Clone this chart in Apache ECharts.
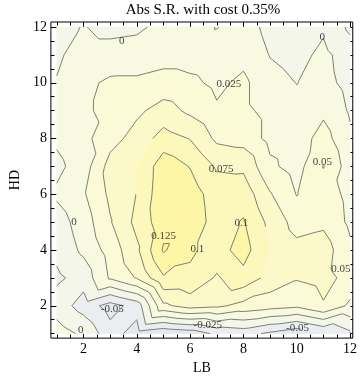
<!DOCTYPE html>
<html>
<head>
<meta charset="utf-8">
<script src="https://cdn.jsdelivr.net/npm/echarts@6/dist/echarts.min.js"></script>
<style>
  html, body { margin: 0; padding: 0; background: #fff; }
  #chart { width: 360px; height: 380px; }
</style>
</head>
<body>
<div id="chart"></div>
<script>
// grid axes
const lbValues = [1, 2, 3, 4, 5, 6, 7, 8, 9, 10, 11, 12]
const hdValues = [1, 2, 3, 4, 5, 6, 7, 8, 9, 10, 11, 12]

// Abs S.R. per HD row, one value per LB
const srHD1  = [0.012, -0.005, -0.040, -0.060, -0.072, -0.065, -0.045, -0.040, -0.055, -0.068, -0.050, -0.030]
const srHD2  = [-0.012, -0.035, -0.060, -0.040, 0.045, 0.060, 0.055, 0.042, 0.035, 0.030, 0.048, 0.020]
const srHD3  = [-0.030, -0.015, 0.028, 0.052, 0.097, 0.095, 0.072, 0.092, 0.066, 0.052, 0.058, 0.042]
const srHD4  = [-0.018, 0.005, 0.035, 0.070, 0.128, 0.104, 0.090, 0.110, 0.075, 0.058, 0.062, 0.030]
const srHD5  = [-0.012, 0.012, 0.048, 0.082, 0.115, 0.115, 0.090, 0.102, 0.068, 0.040, 0.045, 0.020]
const srHD6  = [0.004, 0.022, 0.055, 0.076, 0.118, 0.112, 0.088, 0.090, 0.052, 0.024, 0.038, 0.018]
const srHD7  = [-0.006, 0.012, 0.060, 0.075, 0.115, 0.099, 0.072, 0.070, 0.030, 0.015, 0.051, 0.012]
const srHD8  = [0.004, 0.018, 0.040, 0.060, 0.085, 0.074, 0.045, 0.040, 0.018, 0.012, 0.035, 0.0045]
const srHD9  = [0.004, 0.022, 0.030, 0.045, 0.060, 0.045, 0.028, 0.030, 0.018, 0.006, 0.020, -0.003]
const srHD10 = [0.001, 0.018, 0.030, 0.030, 0.035, 0.030, 0.020, 0.030, 0.008, -0.0005, 0.008, -0.008]
const srHD11 = [-0.003, 0.008, 0.008, 0.010, 0.015, 0.015, 0.012, 0.018, -0.001, -0.008, 0.006, -0.012]
const srHD12 = [-0.007, 0.001, -0.006, -0.004, 0.006, 0.012, 0.026, 0.012, -0.008, -0.012, -0.004, -0.030]
const srRows = [srHD1, srHD2, srHD3, srHD4, srHD5, srHD6, srHD7, srHD8, srHD9, srHD10, srHD11, srHD12]

// contour levels and labels
const levels = [-0.05, -0.025, 0, 0.025, 0.05, 0.075, 0.1, 0.125]
const labelLB = [3.44, 10.96, 7.45, 7.16, 10.96, 1.65, 7.92, 5.01, 6.27, 11.65, 3.08, 1.9, 6.66, 10.03]
const labelHD = [11.5, 11.64, 9.96, 6.89, 7.14, 5.0, 4.96, 4.5, 4.04, 3.32, 1.89, 1.11, 1.29, 1.21]
const labelText = ['0', '0', '0.025', '0.075', '0.05', '0', '0.1', '0.125', '0.1', '0.05', '-0.05', '0', '-0.025', '-0.05']

// tick positions
const majorTicks = [2, 4, 6, 8, 10, 12]
const minorTicks = [1, 1.5, 2.5, 3, 3.5, 4.5, 5, 5.5, 6.5, 7, 7.5, 8.5, 9, 9.5, 10.5, 11, 11.5]

const bandColors = ['#e4e8f2', '#ebeef0', '#f3f6e8', '#f8f9e1', '#fafad6', '#fbf9ca', '#fcf8bb', '#fdf6a6', '#fef396']
const FONT = 'Liberation Serif'

// split each cell into two triangles (linear interpolation inside each)
const triangles = []
for (let j = 0; j < hdValues.length - 1; j++) {
  for (let i = 0; i < lbValues.length - 1; i++) {
    const p00 = [lbValues[i], hdValues[j], srRows[j][i]]
    const p10 = [lbValues[i + 1], hdValues[j], srRows[j][i + 1]]
    const p01 = [lbValues[i], hdValues[j + 1], srRows[j + 1][i]]
    const p11 = [lbValues[i + 1], hdValues[j + 1], srRows[j + 1][i + 1]]
    triangles.push([p00, p10, p11])
    triangles.push([p00, p11, p01])
  }
}
const triData = triangles.map(t => [(t[0][0] + t[1][0] + t[2][0]) / 3, (t[0][1] + t[1][1] + t[2][1]) / 3])

const clip = (poly, lv, above) => {
  const out = []
  for (let k = 0; k < poly.length; k++) {
    const a = poly[k], b = poly[(k + 1) % poly.length]
    const ain = above ? a[2] >= lv : a[2] <= lv
    const bin = above ? b[2] >= lv : b[2] <= lv
    if (ain) out.push(a)
    if (ain !== bin) {
      const t = (lv - a[2]) / (b[2] - a[2])
      out.push([a[0] + t * (b[0] - a[0]), a[1] + t * (b[1] - a[1]), lv])
    }
  }
  return out
}

const renderBands = (params, api) => {
  const tri = triangles[params.dataIndex]
  const children = []
  for (let k = 0; k <= levels.length; k++) {
    let poly = tri
    if (k > 0) poly = clip(poly, levels[k - 1], true)
    if (poly.length >= 3 && k < levels.length) poly = clip(poly, levels[k], false)
    if (poly.length < 3) continue
    children.push({
      type: 'polygon',
      shape: { points: poly.map(p => api.coord([p[0], p[1]])) },
      style: { fill: bandColors[k], stroke: bandColors[k], lineWidth: 0.6 }
    })
  }
  return { type: 'group', children }
}

const renderLines = (params, api) => {
  const tri = triangles[params.dataIndex]
  const children = []
  levels.forEach(lv => {
    const pts = []
    for (let k = 0; k < 3; k++) {
      const a = tri[k], b = tri[(k + 1) % 3]
      if ((a[2] - lv) * (b[2] - lv) < 0) {
        const t = (lv - a[2]) / (b[2] - a[2])
        pts.push(api.coord([a[0] + t * (b[0] - a[0]), a[1] + t * (b[1] - a[1])]))
      }
    }
    if (pts.length === 2) {
      children.push({
        type: 'polyline',
        shape: { points: pts },
        style: { stroke: '#808070', lineWidth: 1, fill: null }
      })
    }
  })
  return { type: 'group', children }
}

const labelData = labelText.map((t, i) => [labelLB[i], labelHD[i], t])

const xBase = { type: 'value', min: 0.78, max: 12.1, splitLine: { show: false }, axisLine: { show: false } }
const yBase = { type: 'value', min: 0.84, max: 12.18, splitLine: { show: false }, axisLine: { show: false } }
const majorTick = { show: true, inside: true, length: 6, customValues: majorTicks, lineStyle: { color: '#000', width: 1 } }
const minorTick = { show: true, inside: true, length: 3.5, customValues: minorTicks, lineStyle: { color: '#000', width: 1 } }
const tickLabel = { show: true, customValues: majorTicks, color: '#000', fontFamily: FONT, fontSize: 14, margin: 4 }

const chart = echarts.init(document.getElementById('chart'))
chart.setOption({
  animation: false,
  title: {
    text: 'Abs S.R. with cost 0.35%',
    left: 198,
    textAlign: 'center',
    top: -2,
    textStyle: { fontFamily: FONT, fontSize: 15, fontWeight: 'normal', color: '#000' }
  },
  grid: { left: 39, top: 22, width: 316, height: 317, show: true, borderColor: '#000', borderWidth: 1, backgroundColor: '#fff' },
  xAxis: [
    Object.assign({}, xBase, { position: 'bottom', axisTick: majorTick, axisLabel: tickLabel,
      name: 'LB', nameLocation: 'middle', nameGap: 22, nameTextStyle: { fontFamily: FONT, fontSize: 14, color: '#000' } }),
    Object.assign({}, xBase, { position: 'bottom', axisTick: minorTick, axisLabel: { show: false } }),
    Object.assign({}, xBase, { position: 'top', axisTick: majorTick, axisLabel: { show: false } }),
    Object.assign({}, xBase, { position: 'top', axisTick: minorTick, axisLabel: { show: false } })
  ],
  yAxis: [
    Object.assign({}, yBase, { position: 'left', axisTick: majorTick, axisLabel: tickLabel,
      name: 'HD', nameLocation: 'middle', nameGap: 26, nameTextStyle: { fontFamily: FONT, fontSize: 14, color: '#000' } }),
    Object.assign({}, yBase, { position: 'left', axisTick: minorTick, axisLabel: { show: false } }),
    Object.assign({}, yBase, { position: 'right', axisTick: majorTick, axisLabel: { show: false } }),
    Object.assign({}, yBase, { position: 'right', axisTick: minorTick, axisLabel: { show: false } })
  ],
  series: [
    {
      type: 'custom',
      renderItem: renderBands,
      data: triData,
      encode: { x: 0, y: 1 },
      silent: true,
      emphasis: { disabled: true },
      z: 1
    },
    {
      type: 'custom',
      renderItem: renderLines,
      data: triData,
      encode: { x: 0, y: 1 },
      silent: true,
      emphasis: { disabled: true },
      z: 2
    },
    {
      type: 'scatter',
      data: labelData,
      symbolSize: 0,
      silent: true,
      emphasis: { disabled: true },
      z: 3,
      label: {
        show: true,
        position: 'inside',
        formatter: p => p.value[2],
        fontFamily: FONT,
        fontSize: 11,
        color: '#111'
      }
    }
  ]
})
</script>
</body>
</html>
